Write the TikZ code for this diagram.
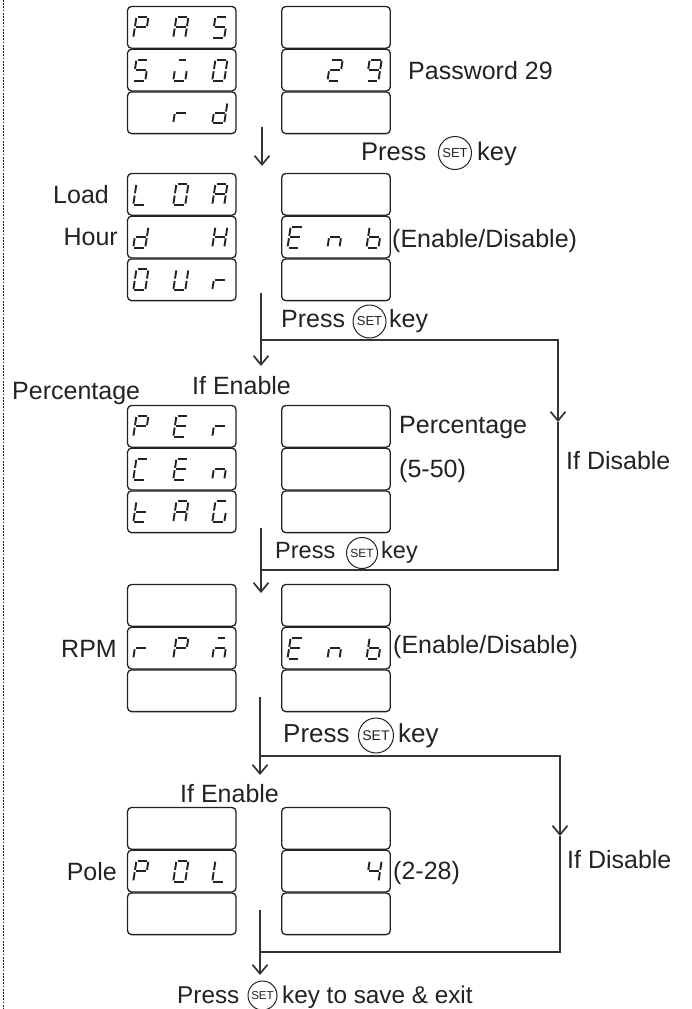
\documentclass[tikz,border=0pt]{standalone}
\usepackage{fontspec}
\setmainfont{Liberation Sans}
\usetikzlibrary{arrows.meta}
\definecolor{ink}{HTML}{222222}
\definecolor{lineink}{HTML}{333333}
\tikzset{
 cell/.style={draw=ink, line width=1.3pt, rounded corners=4pt, minimum width=108.5pt, minimum height=41.7pt, inner sep=0pt},
 segline/.style={draw=ink, line width=1.9pt},
 conn/.style={draw=lineink, line width=1.3pt},
 arrowend/.style={-{Straight Barb[length=9pt,width=15pt,line width=1.7pt]}},
 lbl/.style={inner sep=0pt, text=ink, font=\fontsize{25}{30}\selectfont},
 setkey/.style={draw=ink, circle, line width=1pt, inner sep=0pt, font=\fontsize{13}{14}\selectfont, text=ink},
 dotline/.style={draw=ink, line width=1.2pt, dash pattern=on 1.8pt off 1.4pt},
}
% seven segment pieces (unit = 1pt, y downward)
\expandafter\def\csname sg@a\endcsname{\draw[segline] (-3.2,-10.5) -- (6.4,-10.5);}
\expandafter\def\csname sg@b\endcsname{\draw[segline] (7.42,-9.3) -- (6.18,-1.2);}
\expandafter\def\csname sg@c\endcsname{\draw[segline] (5.82,1.2) -- (4.58,9.3);}
\expandafter\def\csname sg@d\endcsname{\draw[segline] (-6.4,10.5) -- (3.2,10.5);}
\expandafter\def\csname sg@e\endcsname{\draw[segline] (-6.18,1.2) -- (-7.42,9.3);}
\expandafter\def\csname sg@f\endcsname{\draw[segline] (-4.58,-9.3) -- (-5.82,-1.2);}
\expandafter\def\csname sg@g\endcsname{\draw[segline] (-4.8,0) -- (4.8,0);}
\expandafter\def\csname sg@h\endcsname{\draw[segline] (-2,-10.5) -- (5,-10.5);}
\def\dgP{a,b,e,f,g}
\def\dgA{a,b,c,e,f,g}
\def\dgS{a,c,d,f,g}
\def\dgW{h,c,d,e}
\def\dgO{a,b,c,d,e,f}
\def\dgr{e,g}
\def\dgd{b,c,d,e,g}
\def\dgtwo{a,b,d,e,g}
\def\dgnine{a,b,c,d,f,g}
\def\dgL{d,e,f}
\def\dgH{b,c,e,f,g}
\def\dgU{b,c,d,e,f}
\def\dgE{a,d,e,f,g}
\def\dgn{c,e,g}
\def\dgb{c,d,e,f,g}
\def\dgC{a,d,e,f}
\def\dgt{d,e,f,g}
\def\dgG{a,c,d,e,f}
\def\dgM{h,c,e,g}
\def\dgfour{b,c,f,g}
\newcommand\sseg[3]{%
 \begin{scope}[shift={(#1.west)}, xshift=#2pt]
 \foreach \q in #3 {\csname sg@\q\endcsname}
 \end{scope}}
\newcommand\cellcol[3]{%
 \node[cell] (#1a) at (#2,#3+21.35) {};
 \node[cell] (#1b) at (#2,#3+64.05) {};
 \node[cell] (#1c) at (#2,#3+106.75) {};}
\begin{document}
\begin{tikzpicture}[x=1pt,y=-1pt]
\useasboundingbox (0,0) rectangle (692,1009);
% dotted margin line
\coordinate (dtop) at (3.5,0);
\coordinate (dbot) at (3.5,1009);
\draw[dotline] (dtop) -- (dbot);
% display cells
\cellcol{gAL}{181.75}{6} \cellcol{gAR}{336}{6}
\cellcol{gBL}{181.75}{173} \cellcol{gBR}{336}{173}
\cellcol{gCL}{181.75}{405} \cellcol{gCR}{336}{405}
\cellcol{gDL}{181.75}{584} \cellcol{gDR}{336}{584}
\cellcol{gEL}{181.75}{807} \cellcol{gER}{336}{807}
% group 1
\sseg{gALa}{14}{\dgP} \sseg{gALa}{54}{\dgA} \sseg{gALa}{93}{\dgS}
\sseg{gALb}{14}{\dgS} \sseg{gALb}{54}{\dgW} \sseg{gALb}{93}{\dgO}
\sseg{gALc}{54}{\dgr} \sseg{gALc}{93}{\dgd}
\sseg{gARb}{54}{\dgtwo} \sseg{gARb}{93}{\dgnine}
% group 2
\sseg{gBLa}{14}{\dgL} \sseg{gBLa}{54}{\dgO} \sseg{gBLa}{93}{\dgA}
\sseg{gBLb}{14}{\dgd} \sseg{gBLb}{93}{\dgH}
\sseg{gBLc}{14}{\dgO} \sseg{gBLc}{54}{\dgU} \sseg{gBLc}{93}{\dgr}
\sseg{gBRb}{14}{\dgE} \sseg{gBRb}{54}{\dgn} \sseg{gBRb}{93}{\dgb}
% group 3
\sseg{gCLa}{14}{\dgP} \sseg{gCLa}{54}{\dgE} \sseg{gCLa}{93}{\dgr}
\sseg{gCLb}{14}{\dgC} \sseg{gCLb}{54}{\dgE} \sseg{gCLb}{93}{\dgn}
\sseg{gCLc}{14}{\dgt} \sseg{gCLc}{54}{\dgA} \sseg{gCLc}{93}{\dgG}
% group 4
\sseg{gDLb}{14}{\dgr} \sseg{gDLb}{54}{\dgP} \sseg{gDLb}{93}{\dgM}
\sseg{gDRb}{14}{\dgE} \sseg{gDRb}{54}{\dgn} \sseg{gDRb}{93}{\dgb}
% group 5
\sseg{gELb}{14}{\dgP} \sseg{gELb}{54}{\dgO} \sseg{gELb}{93}{\dgL}
\sseg{gERb}{93}{\dgfour}
% labels
\node[lbl, anchor=base west] (pw) at (408,79) {Password 29};
\node[lbl, anchor=base west] (load) at (53,203.3) {Load};
\node[lbl, anchor=base east] (hour) at (118,245) {Hour};
\node[lbl, anchor=base west] (ed1) at (392,247) {(Enable/Disable)};
\node[lbl, anchor=base west] (pct1) at (12,399) {Percentage};
\node[lbl, anchor=base west] (ie1) at (192,394) {If Enable};
\node[lbl, anchor=base west] (pct2) at (399,433) {Percentage};
\node[lbl, anchor=base west] (rng1) at (399,477) {(5-50)};
\node[lbl, anchor=base west] (id1) at (566,469) {If Disable};
\node[lbl, anchor=base east] (rpm) at (117,657) {RPM};
\node[lbl, anchor=base west] (ed2) at (393,653) {(Enable/Disable)};
\node[lbl, anchor=base west] (ie2) at (180,802) {If Enable};
\node[lbl, anchor=base east] (pole) at (117,880) {Pole};
\node[lbl, anchor=base west] (rng2) at (393,879) {(2-28)};
\node[lbl, anchor=base west] (id2) at (567,868) {If Disable};
% press keys
\node[lbl, anchor=base west, font=\fontsize{25.5}{30}\selectfont] (p1) at (361,160) {Press};
\node[setkey, minimum size=33pt] (s1) at (455,153) {SET};
\node[lbl, anchor=base west, font=\fontsize{25.5}{30}\selectfont] (k1) at (477,160) {key};
\node[lbl, anchor=base west] (p2) at (281,327) {Press};
\node[setkey, minimum size=33pt] (s2) at (369.5,321.5) {SET};
\node[lbl, anchor=base west] (k2) at (389,327) {key};
\node[lbl, anchor=base west, font=\fontsize{23.5}{28}\selectfont] (p3) at (275,558) {Press};
\node[setkey, minimum size=31pt, font=\fontsize{12}{13}\selectfont] (s3) at (362,553) {SET};
\node[lbl, anchor=base west, font=\fontsize{23.5}{28}\selectfont] (k3) at (381,558) {key};
\node[lbl, anchor=base west, font=\fontsize{26}{30}\selectfont] (p4) at (283,742) {Press};
\node[setkey, minimum size=35pt, font=\fontsize{14}{15}\selectfont] (s4) at (376,735.5) {SET};
\node[lbl, anchor=base west, font=\fontsize{26}{30}\selectfont] (k4) at (398,742) {key};
\node[lbl, anchor=base west, font=\fontsize{24.3}{28}\selectfont] (p5) at (177,1003) {Press};
\node[setkey, minimum size=29pt, font=\fontsize{11.5}{12}\selectfont] (s5) at (262.5,995.5) {SET};
\node[lbl, anchor=base west, font=\fontsize{24.3}{28}\selectfont] (k5) at (282,1003) {key to save \& exit};
% connectors
\coordinate (a1s) at (262,127); \coordinate (a1e) at (262,166);
\draw[conn, arrowend] (a1s) -- (a1e);
\coordinate (b2s) at (261,293); \coordinate (b2j) at (261,340); \coordinate (b2e) at (261,366);
\coordinate (b2r) at (558,340); \coordinate (b2m) at (558,422); \coordinate (b2q) at (558,570);
\coordinate (b2k) at (261,570);
\coordinate (c3s) at (261,528); \coordinate (c3e) at (261,593);
\draw[conn, arrowend] (b2s) -- (b2e);
\draw[conn, arrowend] (b2j) -- (b2r) -- (b2m);
\draw[conn] (b2m) -- (b2q) -- (b2k);
\draw[conn, arrowend] (c3s) -- (c3e);
\coordinate (d4s) at (260,697); \coordinate (d4j) at (260,756); \coordinate (d4e) at (260,775);
\coordinate (d4r) at (560,756); \coordinate (d4m) at (560,836); \coordinate (d4q) at (560,952);
\coordinate (d4k) at (260,952);
\coordinate (e5s) at (260,910); \coordinate (e5e) at (260,975);
\draw[conn, arrowend] (d4s) -- (d4e);
\draw[conn, arrowend] (d4j) -- (d4r) -- (d4m);
\draw[conn] (d4m) -- (d4q) -- (d4k);
\draw[conn, arrowend] (e5s) -- (e5e);
\end{tikzpicture}
\end{document}
